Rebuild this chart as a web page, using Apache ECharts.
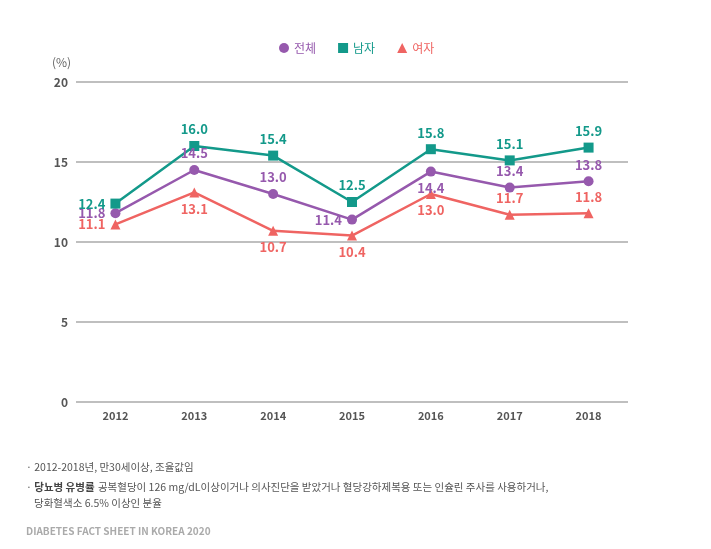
<!DOCTYPE html>
<html>
<head>
<meta charset="utf-8">
<script src="https://cdn.jsdelivr.net/npm/echarts@6/dist/echarts.min.js"></script>
<style>
  html, body { margin: 0; padding: 0; background: #fff; }
  #chart { width: 711px; height: 549px; }
</style>
</head>
<body>
<div id="chart"></div>
<script>
const years = ['2012', '2013', '2014', '2015', '2016', '2017', '2018'];
const totalRate = [11.8, 14.5, 13.0, 11.4, 14.4, 13.4, 13.8];
const maleRate = [12.4, 16.0, 15.4, 12.5, 15.8, 15.1, 15.9];
const femaleRate = [11.1, 13.1, 10.7, 10.4, 13.0, 11.7, 11.8];
const yTicks = [0, 5, 10, 15, 20];

// 라벨 위치
const totalPos = ['left', 'top', 'top', 'left', 'bottom', 'top', 'top'];
const malePos = ['left', 'top', 'top', 'top', 'top', 'top', 'top'];
const femalePos = ['left', 'bottom', 'bottom', 'bottom', 'bottom', 'top', 'top'];

const FONT = '"Noto Sans CJK KR", "Noto Sans", sans-serif';
const C_TOTAL = '#9659ad';
const C_MALE = '#13998a';
const C_FEMALE = '#ef6462';

function makeData(values, pos) {
    return values.map((v, i) => ({
        value: v,
        label: { position: pos[i], distance: pos[i] === 'left' ? 5 : 5 }
    }));
}

function makeSeries(name, values, pos, color, symbol, size) {
    return {
        name: name,
        type: 'line',
        data: makeData(values, pos),
        symbol: symbol,
        symbolSize: size,
        lineStyle: { color: color, width: 2.5 },
        itemStyle: { color: color },
        label: {
            show: true,
            color: color,
            fontFamily: FONT,
            fontSize: 13,
            fontWeight: 'bold',
            formatter: p => p.value.toFixed(1)
        }
    };
}

let chart = echarts.init(document.getElementById('chart'));
let option = {
    animation: false,
    textStyle: { fontFamily: FONT },
    legend: {
        top: 37,
        left: 274,
        itemGap: 22,
        itemWidth: 10,
        itemHeight: 10,
        textStyle: { fontFamily: FONT, fontSize: 12 },
        data: [
            { name: '전체', icon: 'circle', textStyle: { color: C_TOTAL } },
            { name: '남자', icon: 'rect', textStyle: { color: C_MALE } },
            { name: '여자', icon: 'triangle', textStyle: { color: C_FEMALE } }
        ]
    },
    grid: { left: 76, right: 83, top: 82, bottom: 147 },
    xAxis: {
        type: 'category',
        data: years,
        boundaryGap: true,
        axisLine: { show: false },
        axisTick: { show: false },
        axisLabel: { color: '#555', fontSize: 11, fontWeight: 'bold', margin: 8 }
    },
    yAxis: {
        type: 'value',
        min: yTicks[0],
        max: yTicks[yTicks.length - 1],
        interval: 5,
        axisLine: { show: false },
        axisTick: { show: false },
        axisLabel: { color: '#555', fontSize: 12, fontWeight: 'bold', margin: 8 },
        splitLine: { lineStyle: { color: '#aaaaaa', width: 1.5 } }
    },
    graphic: [
        { type: 'text', left: 52, top: 56, style: { text: '(%)', fill: '#666', font: '12px ' + FONT } },
        { type: 'text', left: 26, top: 462, style: { text: '· 2012-2018년, 만30세이상, 조율값임', fill: '#555', font: '10.5px ' + FONT } },
        { type: 'text', left: 26, top: 481, style: {
            rich: {
                b: { fill: '#444', fontWeight: 'bold', fontSize: 10.5, fontFamily: FONT },
                n: { fill: '#555', fontSize: 10.5, fontFamily: FONT }
            },
            text: '{n|· }{b|당뇨병 유병률} {n|공복혈당이 126 mg/dL이상이거나 의사진단을 받았거나 혈당강하제복용 또는 인슐린 주사를 사용하거나,}'
        } },
        { type: 'text', left: 34, top: 498, style: { text: '당화혈색소 6.5% 이상인 분율', fill: '#555', font: '10.5px ' + FONT } },
        { type: 'text', left: 26, top: 526, style: { text: 'DIABETES FACT SHEET IN KOREA 2020', fill: '#aaa', font: 'bold 10px ' + FONT } }
    ],
    series: [
        makeSeries('전체', totalRate, totalPos, C_TOTAL, 'circle', 10),
        makeSeries('남자', maleRate, malePos, C_MALE, 'rect', 10),
        makeSeries('여자', femaleRate, femalePos, C_FEMALE, 'triangle', 10)
    ]
};
option && chart.setOption(option);
</script>
</body>
</html>
